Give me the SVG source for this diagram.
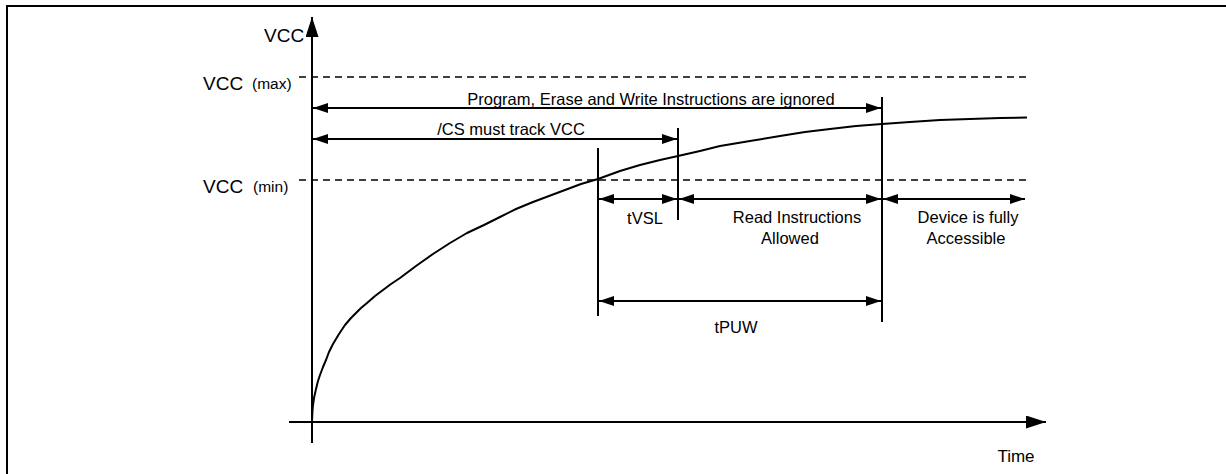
<svg xmlns="http://www.w3.org/2000/svg" width="1226" height="474" viewBox="0 0 1226 474">
<style>
text{font-family:"Liberation Sans",Arial,sans-serif;fill:#000}
.lbl{font-size:16.5px;text-anchor:middle}
.big{font-size:19px}
.sub{font-size:15.5px}
.ln{stroke:#000;stroke-width:2;fill:none}
.dim{stroke:#000;stroke-width:2;fill:none;marker-start:url(#ah);marker-end:url(#ah)}
.dash{stroke:#000;stroke-width:1.6;stroke-dasharray:7 5;fill:none}
</style>
<defs>
<marker id="ah" markerUnits="userSpaceOnUse" markerWidth="15" markerHeight="10" refX="15" refY="5" orient="auto-start-reverse"><path d="M0,0 L15,5 L0,10 z" fill="#000"/></marker>
<marker id="ax" markerUnits="userSpaceOnUse" markerWidth="20" markerHeight="13" refX="20" refY="6.5" orient="auto"><path d="M0,0 L20,6.5 L0,13 z" fill="#000"/></marker>
</defs>
<rect width="1226" height="474" fill="#fff"/>
<g id="frame">
<path class="ln" d="M7,474 V6 H1226" stroke-width="2.2"/>
</g>
<g id="axes">
<line class="ln" x1="312" y1="443" x2="312" y2="17" marker-end="url(#ax)"/>
<line class="ln" x1="289" y1="422" x2="1046" y2="422" marker-end="url(#ax)"/>
<text x="264" y="42" class="big">VCC</text>
<text x="1016" y="462" class="lbl" style="font-size:17px">Time</text>
</g>
<g id="levels">
<line class="dash" x1="299" y1="77" x2="1027" y2="77"/>
<line class="dash" x1="299" y1="180" x2="1027" y2="180"/>
<text x="203" y="90" class="big">VCC</text>
<text x="252" y="89" class="sub">(max)</text>
<text x="203" y="193" class="big">VCC</text>
<text x="253" y="192" class="sub">(min)</text>
</g>
<g id="curve">
<polyline class="ln" stroke-linejoin="round" points="312,422 312.4,412 313,405 314,398 316,389 318,381 320,375 323,367 326,360 329,352 333,344 339,334 345,325 351,318 356,313 361,308 367,303 375,296 383,290 391,284 400,278 416,266 433,254 450,243 467,233 484,225 500,217 516,209 533,202 549,196 565,190 581,184 598,179 620,171 640,165 660,160 678,156 700,151 720,146 750,141 780,136 805,132 830,129 856,126 882,124 910,122 940,120 970,119 1000,118 1027,117.5"/>
</g>
<g id="connectors">
<line class="ln" x1="598" y1="148" x2="598" y2="316"/>
<line class="ln" x1="678" y1="128" x2="678" y2="220"/>
<line class="ln" x1="882" y1="97" x2="882" y2="322"/>
<line class="dim" x1="313" y1="108" x2="881" y2="108"/>
<line class="dim" x1="313" y1="139" x2="677" y2="139"/>
<line class="dim" x1="599" y1="199" x2="677" y2="199"/>
<line class="dim" x1="679" y1="199" x2="881" y2="199"/>
<line class="dim" x1="883" y1="199" x2="1025" y2="199"/>
<line class="dim" x1="599" y1="301" x2="881" y2="301"/>
</g>
<g id="labels">
<text x="651" y="105" class="lbl">Program, Erase and Write Instructions are ignored</text>
<text x="511" y="135" class="lbl">/CS must track VCC</text>
<text x="645" y="224" class="lbl">tVSL</text>
<text x="797" y="223" class="lbl">Read Instructions</text>
<text x="790" y="244" class="lbl">Allowed</text>
<text x="968" y="223" class="lbl">Device is fully</text>
<text x="966" y="244" class="lbl">Accessible</text>
<text x="736" y="333" class="lbl">tPUW</text>
</g>
</svg>
